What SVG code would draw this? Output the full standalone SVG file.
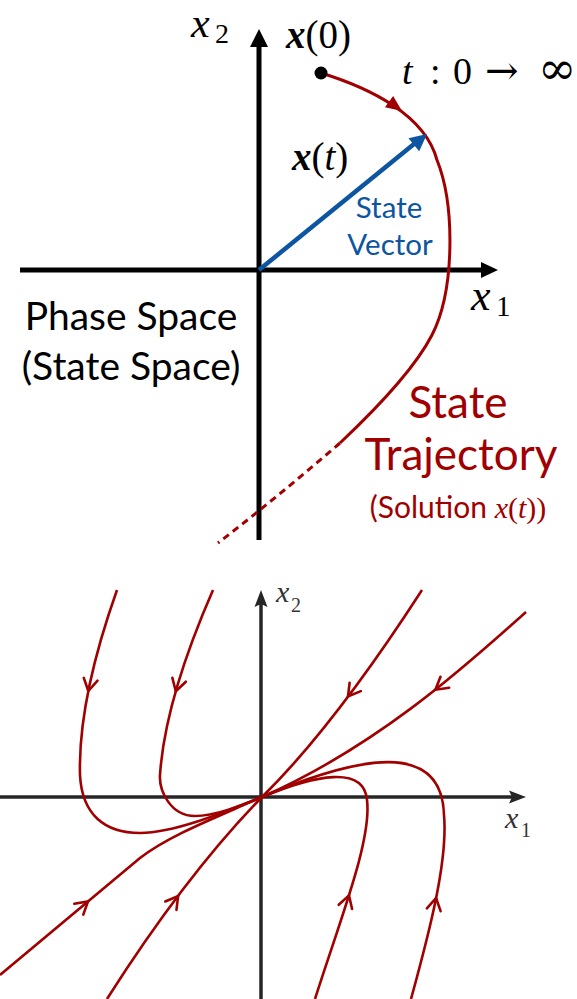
<svg xmlns="http://www.w3.org/2000/svg" width="577" height="999" viewBox="0 0 577 999">
<style>
.math{font-family:"Liberation Serif","DejaVu Serif",serif;font-style:italic}
.up{font-style:normal}
.sym{font-family:"DejaVu Serif",serif;font-style:normal}
.bx{font-weight:bold;font-style:italic}
.sans{font-family:Lato,"Open Sans","Liberation Sans",sans-serif}
.red{fill:#A00000}
.blue{fill:#0D55A0}
.traj{fill:none;stroke:#A00000;stroke-width:3}
.flow{fill:none;stroke:#A00000;stroke-width:2.6;stroke-linejoin:round}
.tip{fill:none;stroke:#A00000;stroke-width:2.6;stroke-linecap:round;stroke-linejoin:miter}
</style>
<rect width="577" height="999" fill="#fff"/>

<g id="top-axes">
<line x1="259" y1="44" x2="259" y2="540" stroke="#000" stroke-width="5"/>
<polygon points="259,29 268,47 250,47" fill="#000"/>
<line x1="20" y1="270" x2="484" y2="270" stroke="#000" stroke-width="5"/>
<polygon points="498,270 481,262 481,278" fill="#000"/>
<text class="math" x="191" y="37" font-size="42">x</text>
<text class="math up" x="215" y="43" font-size="28">2</text>
<text class="math" x="471" y="310" font-size="44">x</text>
<text class="math up" x="496" y="316" font-size="29">1</text>
</g>

<g id="connectors">
<g id="state-trajectory">
<path class="traj" d="M321 73 C370 88,425 115,437 160 C455 205,455 290,432 335 C414 370,375 410,340 443"/>
<path class="traj" d="M340 443 Q280 495,218 543" stroke-dasharray="7 5"/>
<polygon points="0,0 -16,-7 -16,7" fill="#A00000" transform="translate(402,111) rotate(36)"/>
</g>
<g id="state-vector">
<line x1="259" y1="270" x2="414" y2="144" stroke="#0D55A0" stroke-width="4.5"/>
<polygon points="0,0 -17,-8.5 -17,8.5" fill="#0D55A0" transform="translate(427,134) rotate(-39.2)"/>
</g>
</g>

<g id="initial-state">
<circle cx="321" cy="73" r="6.5" fill="#000"/>
<text class="math" x="286" y="48" font-size="39"><tspan class="bx">x</tspan><tspan class="up">(0)</tspan></text>
</g>

<g id="time-label">
<text class="math" y="84" font-size="38"><tspan x="402">t</tspan><tspan class="up" x="430">:</tspan><tspan class="up" x="453">0</tspan><tspan class="sym" x="485" font-size="40">→</tspan><tspan class="sym" x="538" font-size="46">∞</tspan></text>
</g>

<g id="vector-label">
<text class="math" x="292" y="170" font-size="39"><tspan class="bx">x</tspan><tspan class="up">(</tspan>t<tspan class="up">)</tspan></text>
<text class="sans blue" text-anchor="middle" font-size="29.5"><tspan x="389" y="218">State</tspan><tspan x="390" y="255">Vector</tspan></text>
</g>

<g id="phase-space-label">
<text class="sans" text-anchor="middle" font-size="39" fill="#000"><tspan x="131" y="330">Phase Space</tspan><tspan x="131" y="380">(State Space)</tspan></text>
</g>

<g id="trajectory-label">
<text class="sans red" text-anchor="middle" font-size="44"><tspan x="458" y="418">State</tspan><tspan x="461" y="470">Trajectory</tspan></text>
<text class="sans red" x="458" y="518" text-anchor="middle" font-size="30">(Solution <tspan class="math">x</tspan><tspan font-family="Liberation Serif,serif">(</tspan><tspan class="math">t</tspan><tspan font-family="Liberation Serif,serif">))</tspan></text>
</g>

<g id="bottom-axes">
<line x1="261" y1="603" x2="261" y2="999" stroke="#262626" stroke-width="3.5"/>
<path d="M261 590 L267.5 607 L261 604 L254.5 607 Z" fill="#262626"/>
<line x1="0" y1="797" x2="512" y2="797" stroke="#262626" stroke-width="3.5"/>
<path d="M526 797 L509 790.5 L512 797 L509 803.5 Z" fill="#262626"/>
<text class="math" x="276" y="601.5" font-size="30" fill="#333">x</text>
<text class="math up" x="291" y="611.5" font-size="20" fill="#333">2</text>
<text class="math" x="505" y="828" font-size="30" fill="#333">x</text>
<text class="math up" x="521" y="836.5" font-size="20" fill="#333">1</text>
</g>

<g id="phase-portrait">
<path class="flow" d="M117 590 Q78 700,80 775 C82 815,105 833,140 833 C175 833,225 812,262 797"/>
<path class="flow" d="M213 590 Q165 700,160 775 C159 790,170 816,195 816 C215 816,240 806,262 797"/>
<path class="flow" d="M422 590 C380 655,320 740,262 797 C225 835,170 900,107 999"/>
<path class="flow" d="M526 612 C470 662,380 745,262 797 C215 818,170 835,140 858 L0 975"/>
<path class="flow" d="M315 999 C340 920,372 840,367 800 C364 765,315 775,262 797"/>
<path class="flow" d="M411 999 C430 930,448 860,444 815 C442 740,360 755,262 797"/>
<g>
<path class="tip" d="M-12 -7 L0 0 L-12 7" transform="translate(88.3,691) rotate(101.3)"/>
<path class="tip" d="M-12 -7 L0 0 L-12 7" transform="translate(175.8,691.3) rotate(106)"/>
<path class="tip" d="M-12 -7 L0 0 L-12 7" transform="translate(348,696.5) rotate(127)"/>
<path class="tip" d="M-12 -7 L0 0 L-12 7" transform="translate(435.4,689.7) rotate(141.7)"/>
<path class="tip" d="M-12 -7 L0 0 L-12 7" transform="translate(178.1,896.1) rotate(-53)"/>
<path class="tip" d="M-12 -7 L0 0 L-12 7" transform="translate(88,901.5) rotate(-39.9)"/>
<path class="tip" d="M-12 -7 L0 0 L-12 7" transform="translate(349,895.4) rotate(-72.6)"/>
<path class="tip" d="M-12 -7 L0 0 L-12 7" transform="translate(436.1,898) rotate(-78.6)"/>
</g>
</g>
</svg>
